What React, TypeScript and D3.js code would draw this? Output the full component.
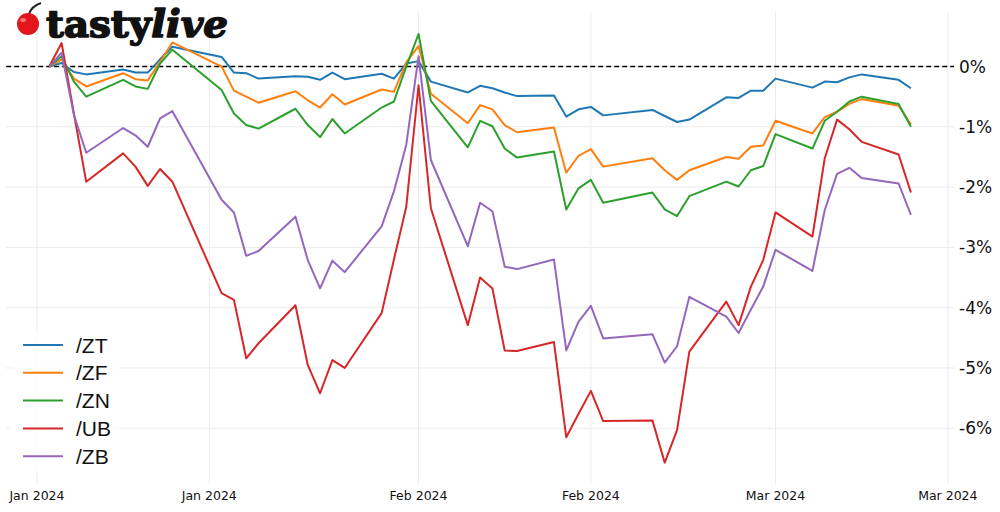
import React, { useEffect } from 'react'
import * as d3 from 'd3'

// trading days shown on the chart
const dates = [
    '2024-01-02', '2024-01-03', '2024-01-04', '2024-01-05', '2024-01-08', '2024-01-09', '2024-01-10',
    '2024-01-11', '2024-01-12', '2024-01-16', '2024-01-17', '2024-01-18', '2024-01-19', '2024-01-22',
    '2024-01-23', '2024-01-24', '2024-01-25', '2024-01-26', '2024-01-29', '2024-01-30', '2024-01-31',
    '2024-02-01', '2024-02-02', '2024-02-05', '2024-02-06', '2024-02-07', '2024-02-08', '2024-02-09',
    '2024-02-12', '2024-02-13', '2024-02-14', '2024-02-15', '2024-02-16', '2024-02-20', '2024-02-21',
    '2024-02-22', '2024-02-23', '2024-02-26', '2024-02-27', '2024-02-28', '2024-02-29', '2024-03-01',
    '2024-03-04', '2024-03-05', '2024-03-06', '2024-03-07', '2024-03-08', '2024-03-11', '2024-03-12'
]

// % change since start
const zt = [
    0, 0.06, -0.09, -0.13, -0.05, -0.1, -0.1, 0.12, 0.33, 0.16, -0.1, -0.11, -0.2, -0.16, -0.17, -0.22,
    -0.1, -0.21, -0.12, -0.2, 0.05, 0.09, -0.25, -0.43, -0.32, -0.36, -0.43, -0.49, -0.48, -0.83, -0.71,
    -0.67, -0.81, -0.72, -0.82, -0.92, -0.88, -0.51, -0.52, -0.4, -0.4, -0.2, -0.35, -0.25, -0.26, -0.18,
    -0.13, -0.22, -0.36
]
const zf = [
    0, 0.12, -0.2, -0.33, -0.11, -0.21, -0.23, 0.08, 0.4, 0.0, -0.4, -0.5, -0.6, -0.41, -0.56, -0.68,
    -0.46, -0.63, -0.38, -0.42, 0.07, 0.34, -0.45, -0.94, -0.64, -0.71, -0.97, -1.09, -1.01, -1.76, -1.48,
    -1.37, -1.66, -1.52, -1.72, -1.88, -1.72, -1.5, -1.53, -1.33, -1.31, -0.9, -1.11, -0.84, -0.75, -0.62,
    -0.54, -0.65, -0.96
]
const zn = [
    0, 0.17, -0.25, -0.5, -0.22, -0.33, -0.37, 0.05, 0.28, -0.39, -0.78, -0.97, -1.03, -0.7, -0.97, -1.17,
    -0.87, -1.11, -0.68, -0.58, 0.0, 0.54, -0.57, -1.34, -0.9, -0.99, -1.36, -1.51, -1.41, -2.37, -2.02,
    -1.88, -2.26, -2.09, -2.37, -2.48, -2.15, -1.91, -1.99, -1.72, -1.65, -1.12, -1.36, -0.9, -0.75, -0.58,
    -0.5, -0.62, -1.0
]
const ub = [
    0, 0.39, -0.78, -1.91, -1.44, -1.66, -1.98, -1.7, -1.91, -3.76, -3.87, -4.84, -4.59, -3.96, -4.95,
    -5.42, -4.87, -5.0, -4.09, -3.2, -2.33, -0.31, -2.35, -4.29, -3.5, -3.68, -4.71, -4.72, -4.57, -6.15,
    -5.76, -5.38, -5.88, -5.87, -6.57, -6.03, -4.73, -3.9, -4.29, -3.65, -3.21, -2.42, -2.82, -1.52, -0.88,
    -1.04, -1.25, -1.46, -2.09
]
const zb = [
    0, 0.23, -0.8, -1.43, -1.02, -1.14, -1.33, -0.86, -0.74, -2.21, -2.42, -3.14, -3.06, -2.49, -3.21,
    -3.68, -3.22, -3.41, -2.65, -2.07, -1.3, 0.17, -1.55, -2.98, -2.26, -2.4, -3.32, -3.36, -3.2, -4.71,
    -4.23, -3.97, -4.51, -4.44, -4.91, -4.64, -3.82, -4.15, -4.42, -4.03, -3.65, -3.04, -3.39, -2.38, -1.78,
    -1.68, -1.85, -1.94, -2.46
]

const seriesNames = ['/ZT', '/ZF', '/ZN', '/UB', '/ZB']
const seriesValues = [zt, zf, zn, ub, zb]
const colors = ['#1f77b4', '#ff7f0e', '#2ca02c', '#d62728', '#9467bd']

const xTicks = ['2024-01-01', '2024-01-15', '2024-02-01', '2024-02-15', '2024-03-01', '2024-03-15']
const yTicks = [0, -1, -2, -3, -4, -5, -6]

const W = 1000
const H = 512

export default function App() {
    useEffect(() => {
        document.body.style.margin = '0'
    }, [])

    const parse = d3.utcParse('%Y-%m-%d')
    const days = dates.map((d) => parse(d) as Date)

    const x = d3
        .scaleUtc()
        .domain([new Date(Date.UTC(2023, 11, 29, 12)), new Date(Date.UTC(2024, 2, 15, 12))])
        .range([6.2, 954])

    const y = d3.scaleLinear().domain([0.9, -6.93]).range([12.3, 484.3])

    const fmt = d3.utcFormat('%b %Y')

    const line = d3
        .line<number>()
        .x((_, i) => x(days[i]))
        .y((v) => y(v))

    const [x0, x1] = x.range()
    const [y0, y1] = y.range()

    return (
        <svg width={W} height={H} style={{ position: 'absolute', left: 0, top: 0, background: '#fff' }}>
            {/* grid */}
            <g stroke="#ebebeb" strokeWidth={1}>
                {xTicks.map((t) => (
                    <line key={t} x1={x(parse(t) as Date)} x2={x(parse(t) as Date)} y1={y0} y2={y1} />
                ))}
                {yTicks.map((t) => (
                    <line key={t} x1={x0} x2={x1} y1={y(t)} y2={y(t)} />
                ))}
            </g>

            {/* zero line */}
            <line x1={x0} x2={x1} y1={y(0)} y2={y(0)} stroke="#000" strokeWidth={1.5} strokeDasharray="5,3" />

            {/* series */}
            <g fill="none" strokeWidth={2} strokeLinejoin="round">
                {seriesValues.map((vals, i) => (
                    <path key={seriesNames[i]} d={line(vals) || ''} stroke={colors[i]} />
                ))}
            </g>

            {/* y labels on right */}
            <g fontFamily="DejaVu Sans" fontSize={17} fill="#111">
                {yTicks.map((t) => (
                    <text key={t} x={959} y={y(t)} dy="0.35em">
                        {`${t}%`}
                    </text>
                ))}
            </g>

            {/* x labels */}
            <g fontFamily="DejaVu Sans" fontSize={12.5} fill="#111" textAnchor="middle">
                {xTicks.map((t) => (
                    <text key={t} x={x(parse(t) as Date)} y={500}>
                        {fmt(parse(t) as Date)}
                    </text>
                ))}
            </g>

            {/* legend */}
            <g>
                <rect x={10} y={330} width={110} height={142} fill="#fff" fillOpacity={0.8} rx={3} />
                {seriesNames.map((n, i) => (
                    <g key={n} transform={`translate(0, ${345 + i * 27.8})`}>
                        <line x1={23} x2={63} y1={0} y2={0} stroke={colors[i]} strokeWidth={2} />
                        <text x={76} y={0} dy="0.36em" fontFamily="Liberation Sans" fontSize={21} fill="#111">
                            {n}
                        </text>
                    </g>
                ))}
            </g>

            {/* logo */}
            <g>
                <path d="M29 14 C 31 8, 35 5, 41 3" stroke="#222" strokeWidth={2} fill="none" />
                <circle cx={28} cy={24} r={11} fill="#e3161b" />
                <ellipse cx={23} cy={20} rx={3} ry={2} fill="#ff8a8a" opacity={0.8} />
                <text
                    x={46}
                    y={37}
                    fontFamily="DejaVu Serif"
                    fontWeight="bold"
                    fontSize={38}
                    fill="#111"
                    stroke="#111"
                    strokeWidth={1.6}
                    strokeLinejoin="round"
                    textLength={182}
                    lengthAdjust="spacingAndGlyphs"
                >
                    tasty<tspan fontStyle="italic">live</tspan>
                </text>
            </g>
        </svg>
    )
}
